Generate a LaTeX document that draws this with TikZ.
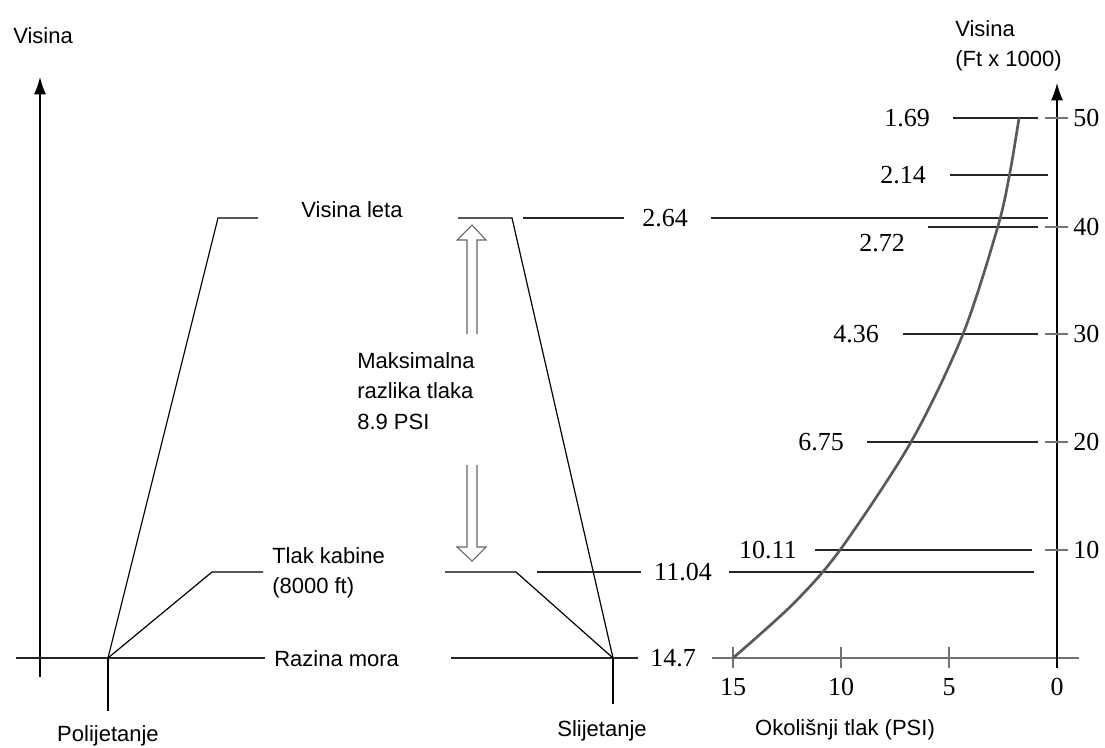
\documentclass[tikz,border=0pt]{standalone}
\usepackage{fontspec}
\setmainfont{Liberation Serif}
\setsansfont{Liberation Sans}
\usetikzlibrary{arrows.meta}
\tikzset{
	lbl/.style={font=\sffamily\fontsize{16.5}{23}\selectfont, inner sep=0pt},
	num/.style={font=\fontsize{19.5}{22}\selectfont, inner sep=0pt},
	prof/.style={line width=0.9pt},
	lvl/.style={line width=0.9pt, color=black!85},
	tck/.style={line width=0.9pt, color=black!55},
	axis/.style={line width=0.9pt, -{Latex[length=13pt,width=9pt]}},
	hollow/.style={line width=0.8pt, color=black!60},
}

\begin{document}
\begin{tikzpicture}[x=0.75pt,y=-0.75pt]
		%%%%% START %%%%%
		\useasboundingbox (0,0) rectangle (1105,747);
		
		\coordinate (takeoff) at (108,658);
		\coordinate (landing) at (613,658);
		\coordinate (climbtop) at (218,218);
		\coordinate (descenttop) at (512,218);
		\coordinate (cabinup) at (212,572);
		\coordinate (cabindown) at (516,572);
		
		% left axis
		\draw[axis] (40,677) -- (40,77);
		\node[lbl, anchor=base west] (leftaxis) at (13,43) {Visina};
		
		% sea level
		\node[lbl, anchor=base west] (sealevel) at (274,666) {Razina mora};
		\node[num] (p147) at (673,658) {14.7};
		\draw[lvl] (16,658) -- (265,658);
		\draw[lvl] (451,658) -- (638,658);
		
		\draw[prof] (takeoff) -- (108,711);
		\draw[prof] (landing) -- (613,704);
		\node[lbl, anchor=base] (takeofftext) at (108,741) {Polijetanje};
		\node[lbl, anchor=base] (landingtext) at (602,736) {Slijetanje};
		
		% flight profile
		\draw[prof] (takeoff) -- (climbtop) -- (258,218);
		\draw[prof] (458,218) -- (descenttop) -- (landing);
		\node[lbl, anchor=base] (cruise) at (352,217) {Visina leta};
		\node[num] (p264) at (665,218) {2.64};
		\draw[lvl] (523,218) -- (624,218);
		\draw[lvl] (711,218) -- (1048,218);
		
		% cabin profile
		\draw[prof] (takeoff) -- (cabinup) -- (263,572);
		\draw[prof] (445,572) -- (cabindown) -- (landing);
		\node[lbl, anchor=north west, align=left] (cabin) at (272,547) {Tlak kabine\\(8000 ft)};
		\node[num] (p1104) at (683,572) {11.04};
		\draw[lvl] (537,572) -- (641,572);
		\draw[lvl] (729,572) -- (1034,572);
		
		% pressure difference
		\draw[hollow] (467,334) -- (467,240) -- (457,240) -- (472,225) -- (486,240) -- (477,240) -- (477,334);
		\draw[hollow] (467,465) -- (467,547) -- (457,547) -- (472,561) -- (486,547) -- (477,547) -- (477,465);
		\node[lbl, anchor=north west, align=left] (maxdiff) at (357,352) {Maksimalna\\razlika tlaka\\8.9 PSI};
		
		% right graph
		\draw[tck] (712,658) -- (1079,658);
		\draw[axis] (1057,668) -- (1057,83);
		\node[lbl, anchor=north west, align=left] (rightaxis) at (955,20) {Visina\\(Ft x 1000)};
		\node[lbl, anchor=base] (xaxis) at (845,735) {Okolišnji tlak (PSI)};
		
		\draw[tck] (733,647) -- (733,668);
		\draw[tck] (841,647) -- (841,668);
		\draw[tck] (949,647) -- (949,668);
		\node[num] (x15) at (733,687) {15};
		\node[num] (x10) at (841,687) {10};
		\node[num] (x5) at (949,687) {5};
		\node[num] (x0) at (1057,687) {0};
		
		\draw[tck] (1045,118) -- (1068,118);
		\draw[tck] (1045,227) -- (1068,227);
		\draw[tck] (1045,334) -- (1068,334);
		\draw[tck] (1045,442) -- (1068,442);
		\draw[tck] (1045,550) -- (1068,550);
		\node[num, anchor=west] (h50) at (1073,118) {50};
		\node[num, anchor=west] (h40) at (1073,227) {40};
		\node[num, anchor=west] (h30) at (1073,334) {30};
		\node[num, anchor=west] (h20) at (1073,442) {20};
		\node[num, anchor=west] (h10) at (1073,550) {10};
		
		\node[num] (p169) at (907,118) {1.69};
		\draw[lvl] (953,118) -- (1038,118);
		\node[num] (p214) at (903,175) {2.14};
		\draw[lvl] (950,175) -- (1048,175);
		\node[num] (p272) at (882,243) {2.72};
		\draw[lvl] (928,227) -- (1038,227);
		\node[num] (p436) at (856,334) {4.36};
		\draw[lvl] (903,334) -- (1038,334);
		\node[num] (p675) at (821,442) {6.75};
		\draw[lvl] (867,442) -- (1038,442);
		\node[num] (p1011) at (768,550) {10.11};
		\draw[lvl] (815,550) -- (1032,550);
		
		\draw[line width=2pt, color=black!65] plot[smooth] coordinates {(733,658) (793,604) (840,550) (911,442) (963,334) (998,226) (1010,172) (1019,118)};
		
		%%%%% END %%%%%
\end{tikzpicture}
\end{document}
